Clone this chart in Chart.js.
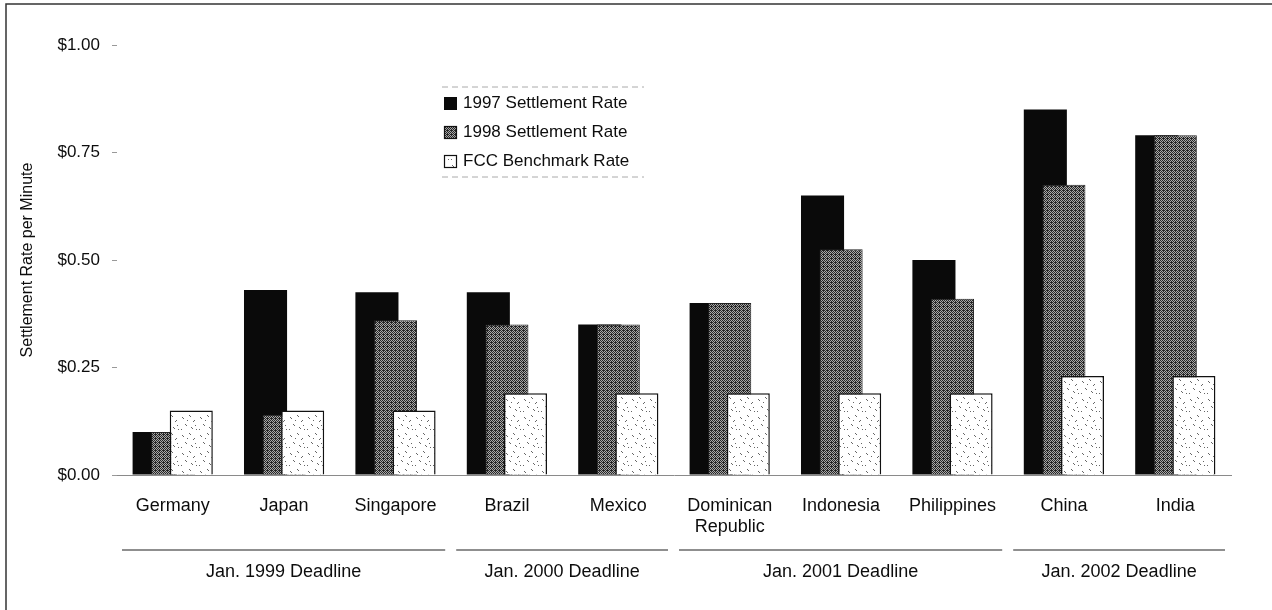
<!DOCTYPE html>
<html>
<head>
<meta charset="utf-8">
<script src="https://cdn.jsdelivr.net/npm/chart.js@4.4.1/dist/chart.umd.min.js"></script>
<style>
  html, body { margin: 0; padding: 0; background: #fff; }
  #wrap { width: 1272px; height: 610px; }
</style>
</head>
<body>
<div id="wrap"><canvas id="chart" width="1272" height="610"></canvas></div>
<script>
const countries = ["Germany", "Japan", "Singapore", "Brazil", "Mexico", ["Dominican", "Republic"], "Indonesia", "Philippines", "China", "India"]
const rate1997 = [0.10, 0.43, 0.425, 0.425, 0.35, 0.40, 0.65, 0.50, 0.85, 0.79]
const rate1998 = [0.10, 0.14, 0.36, 0.35, 0.35, 0.40, 0.525, 0.41, 0.675, 0.79]
const fccRate = [0.15, 0.15, 0.15, 0.19, 0.19, 0.19, 0.19, 0.19, 0.23, 0.23]
const yTicks = [0, 0.25, 0.5, 0.75, 1.0]
const deadlines = ["Jan. 1999 Deadline", "Jan. 2000 Deadline", "Jan. 2001 Deadline", "Jan. 2002 Deadline"]
const deadlineFirst = [0, 3, 5, 8]
const deadlineLast = [2, 4, 7, 9]

const FONT = "'Liberation Sans', Arial, sans-serif"
const INK = "#0d0d0d"

// textured fills like the printed hatching
function grayPattern() {
  const c = document.createElement("canvas")
  c.width = 4; c.height = 4
  const g = c.getContext("2d")
  g.fillStyle = "#a8a8a8"
  g.fillRect(0, 0, 4, 4)
  g.fillStyle = "#262626"
  const dots = [[0,0],[2,0],[1,1],[3,1],[0,2],[2,2],[3,2],[1,3],[3,3]]
  dots.forEach(([x, y]) => g.fillRect(x, y, 1, 1))
  return g.createPattern(c, "repeat")
}

function speckPattern() {
  const c = document.createElement("canvas")
  c.width = 18; c.height = 18
  const g = c.getContext("2d")
  g.fillStyle = "#ffffff"
  g.fillRect(0, 0, 18, 18)
  g.fillStyle = "#666"
  const marks = [[2,3],[3,4],[9,1],[10,2],[14,6],[13,7],[5,10],[6,11],[11,13],[12,14],[16,15],[1,15],[7,6],[15,11]]
  marks.forEach(([x, y]) => g.fillRect(x, y, 1, 1))
  return g.createPattern(c, "repeat")
}

// draw first dataset first so the later bars sit in front, like the print
const frontToBack = {
  id: "frontToBack",
  beforeDatasetsDraw(chart) {
    chart.getSortedVisibleDatasetMetas().forEach(m => chart._drawDataset(m))
    return false
  }
}

const groupLines = {
  id: "groupLines",
  afterDraw(chart) {
    const ctx = chart.ctx
    const x = chart.scales.x
    const half = (x.getPixelForValue(1) - x.getPixelForValue(0)) / 2
    ctx.save()
    ctx.font = "18px " + FONT
    ctx.fillStyle = INK
    ctx.textAlign = "center"
    ctx.textBaseline = "middle"
    deadlines.forEach((lbl, i) => {
      const x0 = x.getPixelForValue(deadlineFirst[i]) - half + 5
      const x1 = x.getPixelForValue(deadlineLast[i]) + half - 6
      ctx.strokeStyle = "#6a6a6a"
      ctx.lineWidth = 1.5
      ctx.beginPath()
      ctx.moveTo(x0, 550)
      ctx.lineTo(x1, 550)
      ctx.stroke()
      ctx.fillText(lbl, (x0 + x1) / 2, 572)
    })
    ctx.restore()
  }
}

const boxLegend = {
  id: "boxLegend",
  afterDraw(chart) {
    const ctx = chart.ctx
    const left = chart.chartArea.left + 327
    const rows = [103, 132, 161]
    ctx.save()
    ctx.font = "17px " + FONT
    ctx.textBaseline = "middle"
    chart.data.datasets.forEach((ds, i) => {
      const y = rows[i]
      ctx.fillStyle = ds.backgroundColor
      ctx.fillRect(left, y - 6, 13, 13)
      if (ds.borderWidth) {
        ctx.strokeStyle = "#111"
        ctx.lineWidth = 1.2
        ctx.strokeRect(left + 0.5, y - 5.5, 12, 12)
      }
      ctx.fillStyle = INK
      ctx.fillText(ds.label, left + 19, y)
    })
    // faint dotted rules above and below the key
    ctx.strokeStyle = "#aaa"
    ctx.lineWidth = 1
    ctx.setLineDash([6, 4])
    ctx.beginPath()
    ctx.moveTo(left - 2, 87); ctx.lineTo(left + 200, 87)
    ctx.moveTo(left - 2, 177); ctx.lineTo(left + 200, 177)
    ctx.stroke()
    ctx.restore()
  }
}

const frame = {
  id: "frame",
  afterDraw(chart) {
    const ctx = chart.ctx
    ctx.save()
    ctx.strokeStyle = "#333"
    ctx.lineWidth = 1.5
    ctx.beginPath()
    ctx.moveTo(6, 610)
    ctx.lineTo(6, 4)
    ctx.lineTo(1272, 4)
    ctx.stroke()
    ctx.restore()
  }
}

new Chart(document.getElementById("chart").getContext("2d"), {
  type: "bar",
  data: {
    labels: countries,
    datasets: [
      {label: "1997 Settlement Rate", data: rate1997, backgroundColor: "#0a0a0a", borderWidth: 0},
      {label: "1998 Settlement Rate", data: rate1998, backgroundColor: grayPattern(), borderColor: "#222", borderWidth: 1},
      {label: "FCC Benchmark Rate", data: fccRate, backgroundColor: speckPattern(), borderColor: "#111", borderWidth: 1.5},
    ],
  },
  options: {
    responsive: false,
    animation: false,
    devicePixelRatio: 1,
    categoryPercentage: 0.5,
    barPercentage: 2.32,
    layout: {padding: {top: 45, right: 41, bottom: 0, left: 0}},
    plugins: {legend: {display: false}, tooltip: {enabled: false}},
    scales: {
      x: {
        grid: {display: false, drawTicks: false},
        border: {display: true, color: "#8a8a8a", width: 1},
        ticks: {color: INK, font: {family: FONT, size: 18}, padding: 20, maxRotation: 0, autoSkip: false},
        afterFit: (s) => { s.height = 135 },
      },
      y: {
        min: 0,
        max: 1,
        afterBuildTicks: (s) => { s.ticks = yTicks.map(v => ({value: v})) },
        grid: {drawOnChartArea: false, drawTicks: true, tickLength: 5, color: "#999"},
        border: {display: false},
        ticks: {color: INK, font: {family: FONT, size: 17}, padding: 12, callback: (v) => "$" + v.toFixed(2)},
        title: {display: true, text: "Settlement Rate per Minute", color: INK, font: {family: FONT, size: 16}, padding: {top: 18, bottom: 0}},
        afterFit: (s) => { s.width = 117 },
      },
    },
  },
  plugins: [frontToBack, groupLines, boxLegend, frame],
})
</script>
</body>
</html>
